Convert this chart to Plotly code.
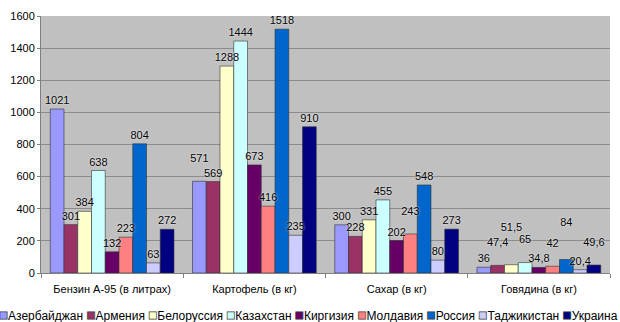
import plotly.graph_objects as go

categories = ["Бензин А-95 (в литрах)", "Картофель (в кг)", "Сахар (в кг)", "Говядина (в кг)"]
countries = ["Азербайджан", "Армения", "Белоруссия", "Казахстан", "Киргизия",
             "Молдавия", "Россия", "Таджикистан", "Украина"]
values = {
    "Азербайджан": [1021, 571, 300, 36],
    "Армения": [301, 569, 228, 47.4],
    "Белоруссия": [384, 1288, 331, 51.5],
    "Казахстан": [638, 1444, 455, 65],
    "Киргизия": [132, 673, 202, 34.8],
    "Молдавия": [223, 416, 243, 42],
    "Россия": [804, 1518, 548, 84],
    "Таджикистан": [63, 235, 80, 20.4],
    "Украина": [272, 910, 273, 49.6],
}
colors = ["#9999FF", "#993366", "#FFFFCC", "#CCFFFF", "#660066",
          "#FF8080", "#0066CC", "#CCCCFF", "#000080"]

# extra blank lines under a label to lift it (avoid label collisions, as in the reference)
label_lift = {
    "Азербайджан": [0, 1, 0, 0],
    "Армения": [0, 0, 0, 1],
    "Белоруссия": [0, 0, 0, 2],
    "Казахстан": [0, 0, 0, 1],
    "Киргизия": [0, 0, 0, 0],
    "Молдавия": [0, 0, 1, 1],
    "Россия": [0, 0, 0, 2],
    "Таджикистан": [0, 0, 0, 0],
    "Украина": [0, 0, 0, 1],
}

fig = go.Figure()
# the bars
for c, col in zip(countries, colors):
    fig.add_trace(go.Bar(
        name=c, x=categories, y=values[c], offsetgroup=c,
        marker=dict(color=col, line=dict(color="#333333", width=0.6)),
        hoverinfo="skip",
    ))
# label overlay (drawn after all bars so labels stay on top)
for c in countries:
    vals = values[c]
    texts = [f"{v:g}".replace(".", ",") + "<br>\u00a0" * n
             for v, n in zip(vals, label_lift[c])]
    fig.add_trace(go.Bar(
        name=c, x=categories, y=vals, offsetgroup=c, showlegend=False,
        marker=dict(color="rgba(0,0,0,0)", line=dict(width=0)),
        text=texts, textposition="outside", cliponaxis=False,
        textfont=dict(family="Arial", size=11, color="#000000",
                      shadow="0px 0px 2px #ffffff"),
    ))

legend_html = " ".join(
    f'<span style="color:{col};font-size:15px;stroke:#404040;stroke-width:0.7px">■</span>{c}'
    for c, col in zip(countries, colors)
)
fig.add_annotation(
    text=legend_html, xref="paper", yref="paper", x=0.47, y=-0.12,
    xanchor="center", yanchor="top", showarrow=False,
    font=dict(family="Arial", size=12, color="#000000"),
)

fig.update_layout(
    width=620, height=322,
    margin=dict(l=36, r=10, t=10, b=49),
    paper_bgcolor="#ffffff", plot_bgcolor="#C0C0C0",
    barmode="group", bargap=0.13, bargroupgap=0,
    font=dict(family="Arial", size=11, color="#000000"),
    showlegend=False,
    uniformtext=dict(minsize=11, mode="show"),
    xaxis=dict(showline=True, linecolor="#808080", ticks="outside", ticklen=4,
               tickcolor="#808080", tickson="boundaries", ticklabelstandoff=6,
               tickfont=dict(size=11)),
    yaxis=dict(range=[0, 1600], dtick=200, showgrid=True, gridcolor="#8c8c8c",
               gridwidth=1, showline=True, linecolor="#808080", ticks="outside",
               ticklen=3, tickcolor="#808080", tickfont=dict(size=11), zeroline=False),
)
fig.write_html("out.html")
